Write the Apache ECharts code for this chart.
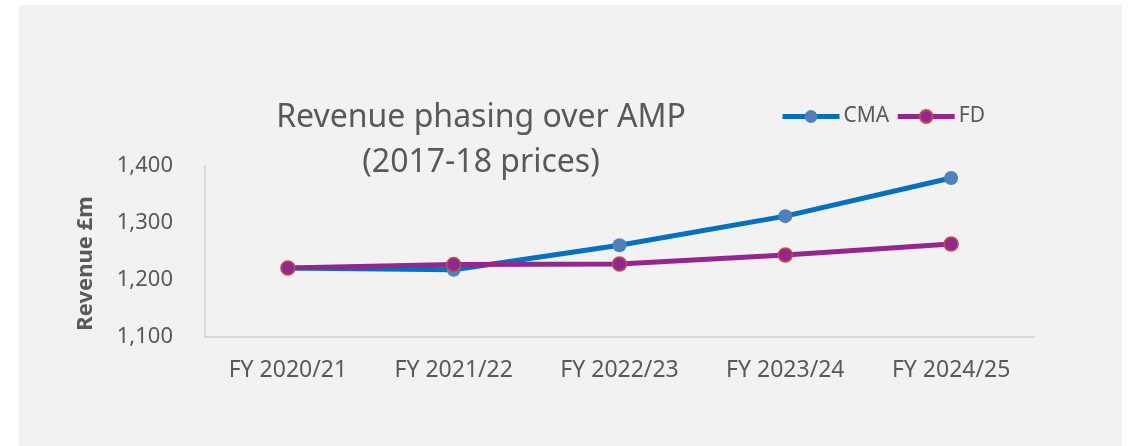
<!DOCTYPE html>
<html>
<head>
<meta charset="utf-8">
<script src="https://cdn.jsdelivr.net/npm/echarts@6/dist/echarts.min.js"></script>
<style>
  html, body { margin: 0; padding: 0; background: #ffffff; }
  #panel { position: absolute; left: 19px; top: 5px; width: 1103px; height: 441px; background: #f2f2f2; }
  #chart { position: absolute; left: 0; top: 0; width: 1130px; height: 446px; }
</style>
</head>
<body>
<div id="panel"></div>
<div id="chart"></div>
<script>
const years = ['FY 2020/21', 'FY 2021/22', 'FY 2022/23', 'FY 2023/24', 'FY 2024/25']
const cma = [1221, 1218, 1261, 1312, 1379]
const fd = [1221, 1227, 1228, 1244, 1263]
const yMin = 1100
const yMax = 1400
const yStep = 100

const font = 'Noto Sans'
const grey = '#595959'

const chart = echarts.init(document.getElementById('chart'))

chart.setOption({
  animation: false,
  title: {
    text: 'Revenue phasing over AMP\n(2017-18 prices)',
    left: 476,
    top: 90,
    textAlign: 'center',
    textStyle: {
      fontFamily: font,
      fontSize: 32,
      fontWeight: 'normal',
      color: grey,
      lineHeight: 45,
    },
  },
  legend: {
    left: 780,
    top: 106,
    padding: 0,
    itemWidth: 57,
    itemHeight: 16,
    itemGap: 6,
    lineStyle: { width: 5 },
    textStyle: { fontFamily: font, fontSize: 21, color: grey, padding: [0, 0, 0, -1] },
    data: ['CMA', 'FD'],
  },
  grid: { left: 205, right: 96, top: 166, bottom: 109, containLabel: false },
  xAxis: {
    type: 'category',
    data: years,
    boundaryGap: true,
    axisLine: { lineStyle: { color: '#d9d9d9', width: 2 } },
    axisTick: { show: false },
    axisLabel: { fontFamily: font, fontSize: 23, color: grey, margin: 22 },
  },
  yAxis: {
    type: 'value',
    min: yMin,
    max: yMax,
    interval: yStep,
    name: 'Revenue £m',
    nameLocation: 'middle',
    nameGap: 108,
    nameTextStyle: {
      fontFamily: font,
      fontSize: 22,
      fontWeight: 'bold',
      color: grey,
      padding: [0, 24, 0, 0],
    },
    axisLine: { show: true, lineStyle: { color: '#d9d9d9', width: 2 } },
    axisTick: { show: false },
    splitLine: { show: false },
    axisLabel: {
      fontFamily: font,
      fontSize: 22,
      color: grey,
      margin: 32,
      formatter: (v) => v.toLocaleString('en-GB'),
    },
  },
  series: [
    {
      name: 'CMA',
      type: 'line',
      data: cma,
      symbol: 'circle',
      symbolSize: 14,
      lineStyle: { color: '#0070c0', width: 5 },
      itemStyle: { color: '#4f81bd', borderWidth: 0 },
    },
    {
      name: 'FD',
      type: 'line',
      data: fd,
      symbol: 'circle',
      symbolSize: 14,
      lineStyle: { color: '#922790', width: 5 },
      itemStyle: { color: '#922790', borderColor: '#c0504d', borderWidth: 1.5 },
    },
  ],
})
</script>
</body>
</html>
